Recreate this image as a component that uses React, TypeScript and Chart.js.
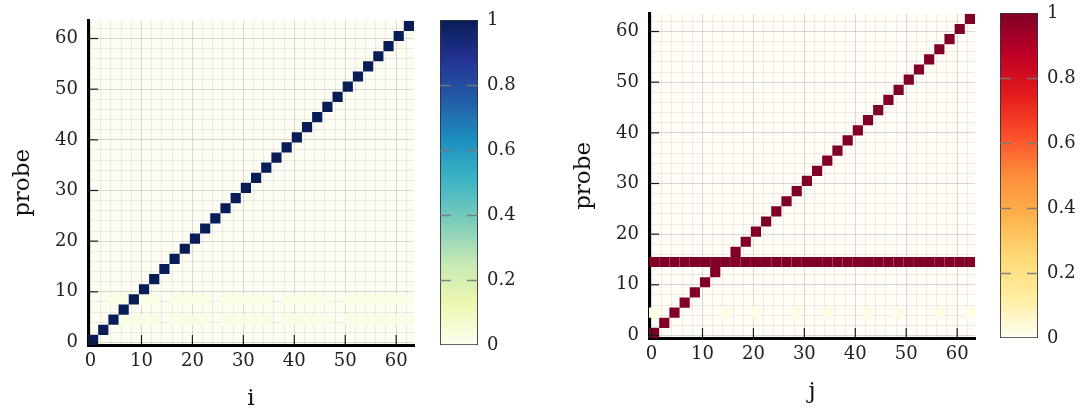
import React, { useEffect, useRef } from 'react';
import { Chart, registerables } from 'chart.js';
Chart.register(...registerables);

// ---- data (cell centres in axis units; each cell spans 2 units) ----
const cellCenters = [0.5, 2.5, 4.5, 6.5, 8.5, 10.5, 12.5, 14.5, 16.5, 18.5, 20.5, 22.5, 24.5, 26.5, 28.5, 30.5,
  32.5, 34.5, 36.5, 38.5, 40.5, 42.5, 44.5, 46.5, 48.5, 50.5, 52.5, 54.5, 56.5, 58.5, 60.5, 62.5];
const diagonalI = [0.5, 2.5, 4.5, 6.5, 8.5, 10.5, 12.5, 14.5, 16.5, 18.5, 20.5, 22.5, 24.5, 26.5, 28.5, 30.5,
  32.5, 34.5, 36.5, 38.5, 40.5, 42.5, 44.5, 46.5, 48.5, 50.5, 52.5, 54.5, 56.5, 58.5, 60.5, 62.5];
const diagonalProbe = [0.5, 2.5, 4.5, 6.5, 8.5, 10.5, 12.5, 14.5, 16.5, 18.5, 20.5, 22.5, 24.5, 26.5, 28.5, 30.5,
  32.5, 34.5, 36.5, 38.5, 40.5, 42.5, 44.5, 46.5, 48.5, 50.5, 52.5, 54.5, 56.5, 58.5, 60.5, 62.5];
const diagonalValue = 1;

const leftFaintRows = [8.5, 4.5];
const leftFaintCols = [4.5, 6.5, 8.5, 10.5, 12.5, 16.5, 18.5, 20.5, 22.5, 26.5, 28.5, 30.5, 32.5, 34.5, 38.5,
  40.5, 42.5, 44.5, 46.5, 50.5, 52.5, 54.5, 56.5, 58.5, 60.5, 62.5];
const leftFaintValue = 0.02;

const rightBandProbe = 14.5;
const rightBandValue = 1;
const rightFaintRow = 4.5;
const rightFaintCols = [0.5, 14.5, 20.5, 28.5, 34.5, 42.5, 48.5, 56.5, 62.5];
const rightFaintValue = 0.02;

const gridTicks = [0, 2, 4, 6, 8, 10, 12, 14, 16, 18, 20, 22, 24, 26, 28, 30, 32, 34, 36, 38, 40, 42, 44, 46,
  48, 50, 52, 54, 56, 58, 60, 62];
const majorTicks = [0, 10, 20, 30, 40, 50, 60];
const cbTicks = [0, 0.2, 0.4, 0.6, 0.8, 1];
const cbLabels = ['0', '0.2', '0.4', '0.6', '0.8', '1'];
const cbDashes = [0.2, 0.4, 0.6, 0.8];

const blueStops = ['#fdfef0', '#edf8b1', '#c7e9b4', '#7fcdbb', '#41b6c4', '#1d91c0', '#225ea8', '#253494', '#081d58'];
const redStops = ['#fffef2', '#ffeda0', '#fed976', '#feb24c', '#fd8d3c', '#fc4e2a', '#e31a1c', '#bd0026', '#800026'];

const FONT = "'DejaVu Serif', 'Liberation Serif', serif";
const CELL = 2;

function hexToRgb(h: string) {
  const n = parseInt(h.slice(1), 16);
  return [(n >> 16) & 255, (n >> 8) & 255, n & 255];
}
function colorAt(stops: string[], v: number) {
  const t = Math.max(0, Math.min(1, v)) * (stops.length - 1);
  const i = Math.min(stops.length - 2, Math.floor(t));
  const f = t - i;
  const a = hexToRgb(stops[i]);
  const b = hexToRgb(stops[i + 1]);
  const c = a.map((x, k) => Math.round(x + (b[k] - x) * f));
  return `rgb(${c[0]},${c[1]},${c[2]})`;
}

type Cell = { x: number; y: number; v: number };

function buildLeftCells(): Cell[] {
  const cells: Cell[] = [];
  leftFaintRows.forEach((r) => leftFaintCols.forEach((c) => cells.push({ x: c, y: r, v: leftFaintValue })));
  diagonalI.forEach((x, k) => cells.push({ x, y: diagonalProbe[k], v: diagonalValue }));
  return cells;
}
function buildRightCells(): Cell[] {
  const cells: Cell[] = [];
  rightFaintCols.forEach((c) => cells.push({ x: c, y: rightFaintRow, v: rightFaintValue }));
  cellCenters.forEach((c) => cells.push({ x: c, y: rightBandProbe, v: rightBandValue }));
  diagonalI.forEach((x, k) => cells.push({ x, y: diagonalProbe[k], v: diagonalValue }));
  return cells;
}

function heatmapConfig(cells: Cell[], stops: string[], bg: string, xTitle: string): any {
  const bgPlugin = {
    id: 'bg',
    beforeDraw(chart: any) {
      const { ctx, chartArea: a } = chart;
      ctx.save();
      ctx.fillStyle = bg;
      ctx.fillRect(a.left, a.top, a.right - a.left, a.bottom - a.top);
      ctx.restore();
    },
  };
  const tickPlugin = {
    id: 'inTicks',
    afterDraw(chart: any) {
      const { ctx, chartArea: a, scales } = chart;
      ctx.save();
      ctx.strokeStyle = '#1a1a1a';
      ctx.lineWidth = 1.2;
      majorTicks.forEach((v) => {
        const px = scales.x.getPixelForValue(v);
        ctx.beginPath();
        ctx.moveTo(px, a.bottom);
        ctx.lineTo(px, a.bottom - 10);
        ctx.stroke();
        const py = scales.y.getPixelForValue(v);
        ctx.beginPath();
        ctx.moveTo(a.left, py);
        ctx.lineTo(a.left + 10, py);
        ctx.stroke();
      });
      ctx.restore();
    },
  };
  const gridColor = (c: any) =>
    c.tick && majorTicks.includes(c.tick.value) ? 'rgba(0,0,0,0.14)' : 'rgba(0,0,0,0.07)';
  const tickFont = { family: FONT, size: 18 };
  const radius = (c: any) => {
    const s = c.chart.scales.x;
    const side = Math.abs(s.getPixelForValue(CELL) - s.getPixelForValue(0));
    return side / 2 / Math.SQRT1_2;
  };
  return {
    type: 'scatter',
    data: {
      datasets: [
        {
          data: cells.map((c) => ({ x: c.x, y: c.y })),
          pointStyle: 'rect',
          pointRadius: radius,
          pointHoverRadius: radius,
          pointBorderWidth: 0,
          borderWidth: 0,
          pointBackgroundColor: cells.map((c) => colorAt(stops, c.v)),
        },
      ],
    },
    options: {
      responsive: false,
      animation: false,
      events: [],
      layout: { padding: { left: 0, right: 16, top: 20, bottom: 0 } },
      plugins: { legend: { display: false }, tooltip: { enabled: false } },
      scales: {
        x: {
          type: 'linear',
          z: 1,
          min: -0.5,
          max: 63.5,
          afterBuildTicks: (s: any) => { s.ticks = gridTicks.map((v) => ({ value: v })); },
          afterFit: (s: any) => { s.height = 67; },
          grid: { color: gridColor, lineWidth: 1, drawTicks: false },
          border: { display: true, color: '#000', width: 3 },
          ticks: {
            autoSkip: false,
            maxRotation: 0,
            padding: 6,
            color: '#222',
            font: tickFont,
            callback: (v: any) => (majorTicks.includes(v) ? String(v) : ''),
          },
          title: {
            display: true,
            text: xTitle,
            color: '#111',
            font: { family: FONT, size: 23, lineHeight: 1 },
            padding: { top: 0, bottom: 1.5 },
          },
        },
        y: {
          type: 'linear',
          z: 1,
          min: -0.5,
          max: 63.5,
          afterBuildTicks: (s: any) => { s.ticks = gridTicks.map((v) => ({ value: v })); },
          afterFit: (s: any) => { s.width = 88; },
          grid: { color: gridColor, lineWidth: 1, drawTicks: false },
          border: { display: true, color: '#000', width: 3 },
          ticks: {
            autoSkip: false,
            padding: 10,
            color: '#222',
            font: tickFont,
            callback: (v: any) => (majorTicks.includes(v) ? String(v) : ''),
          },
          title: {
            display: true,
            text: 'probe',
            color: '#111',
            font: { family: FONT, size: 23, lineHeight: 1 },
            padding: { top: 11.5, bottom: 0 },
          },
        },
      },
    },
    plugins: [bgPlugin, tickPlugin],
  };
}

function colorbarConfig(stops: string[]): any {
  const dashPlugin = {
    id: 'cbDash',
    afterDatasetsDraw(chart: any) {
      const { ctx, chartArea: a, scales } = chart;
      ctx.save();
      ctx.strokeStyle = 'rgba(120,120,120,0.9)';
      ctx.lineWidth = 1.3;
      cbDashes.forEach((v) => {
        const py = Math.round(scales.y.getPixelForValue(v)) + 0.5;
        ctx.beginPath();
        ctx.moveTo(a.left, py);
        ctx.lineTo(a.left + 11, py);
        ctx.moveTo(a.right - 11, py);
        ctx.lineTo(a.right, py);
        ctx.stroke();
      });
      ctx.restore();
    },
  };
  return {
    type: 'bar',
    data: {
      labels: [''],
      datasets: [
        {
          data: [[cbTicks[0], cbTicks[cbTicks.length - 1]]],
          backgroundColor: (c: any) => {
            const chart = c.chart;
            if (!chart.chartArea) return stops[0];
            const ys = chart.scales.y;
            const g = chart.ctx.createLinearGradient(0, ys.getPixelForValue(0), 0, ys.getPixelForValue(1));
            stops.forEach((s, i) => g.addColorStop(i / (stops.length - 1), s));
            return g;
          },
          borderColor: '#333',
          borderWidth: 1.2,
          borderSkipped: false,
          barPercentage: 1,
          categoryPercentage: 1,
        },
      ],
    },
    options: {
      responsive: false,
      animation: false,
      events: [],
      layout: { padding: { left: 10, right: 0, top: 20, bottom: 67 } },
      plugins: { legend: { display: false }, tooltip: { enabled: false } },
      scales: {
        x: { display: false },
        y: {
          position: 'right',
          min: 0,
          max: 1,
          afterBuildTicks: (s: any) => { s.ticks = cbTicks.map((v) => ({ value: v })); },
          afterFit: (s: any) => { s.width = 43; },
          grid: { display: false, drawTicks: false },
          border: { display: false },
          ticks: {
            padding: 9,
            color: '#222',
            font: { family: FONT, size: 18 },
            callback: (v: any) => cbLabels[cbTicks.indexOf(v)] ?? '',
          },
        },
      },
    },
    plugins: [dashPlugin],
  };
}

function ChartCanvas({ config, left, top, width, height }: any) {
  const ref = useRef<HTMLCanvasElement | null>(null);
  useEffect(() => {
    if (!ref.current) return;
    const chart = new Chart(ref.current, config());
    return () => chart.destroy();
  }, []);
  return (
    <canvas
      ref={ref}
      width={width}
      height={height}
      style={{ position: 'absolute', left, top, width, height }}
    />
  );
}

export default function App() {
  return (
    <div
      style={{
        position: 'absolute',
        left: 0,
        top: 0,
        width: 1081,
        height: 412,
        overflow: 'hidden',
        background: '#ffffff',
      }}
    >
      <ChartCanvas
        config={() => heatmapConfig(buildLeftCells(), blueStops, '#fdfdf4', 'i')}
        left={0}
        top={0}
        width={430}
        height={412}
      />
      <ChartCanvas config={() => colorbarConfig(blueStops)} left={430} top={0} width={91} height={412} />
      <ChartCanvas
        config={() => heatmapConfig(buildRightCells(), redStops, '#fffdf6', 'j')}
        left={561}
        top={-7}
        width={430}
        height={412}
      />
      <ChartCanvas config={() => colorbarConfig(redStops)} left={990} top={-7} width={91} height={412} />
    </div>
  );
}
